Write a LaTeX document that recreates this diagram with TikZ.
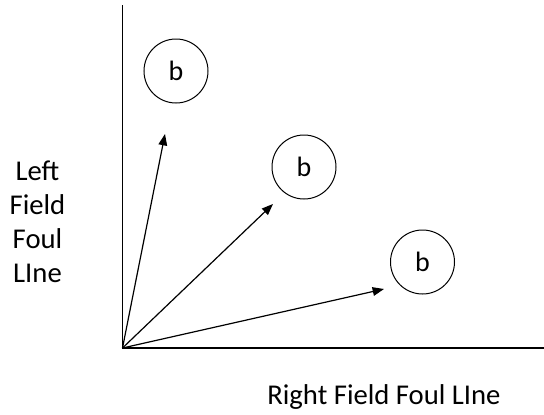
\documentclass[tikz,border=0pt]{standalone}
\usepackage{fontspec}
\setmainfont{Carlito}
\usetikzlibrary{arrows.meta}
\begin{document}
\begin{tikzpicture}[x=0.75pt,y=-0.75pt,
  ball/.style={draw,circle,minimum size=48pt,inner sep=0pt,line width=0.75pt,font=\fontsize{21}{24}\selectfont},
  axis/.style={line width=1pt},
  hit/.style={line width=0.9pt,-{Triangle[length=8.5pt,width=6.5pt]}},
  lbl/.style={font=\fontsize{21.5}{25.5}\selectfont,align=center}]
\useasboundingbox (0,0) rectangle (544,415);
\coordinate (o) at (122.5,348);
\coordinate (top) at (122.5,5);
\coordinate (right) at (544,348);
\draw[axis] (top) -- (o) -- (right);
\node[ball] (b1) at (176,71) {b};
\node[ball] (b2) at (304,167) {b};
\node[ball] (b3) at (422.5,262) {b};
\coordinate (t1) at (165,134);
\coordinate (t2) at (273,204);
\coordinate (t3) at (384,289);
\draw[hit] (o) -- (t1);
\draw[hit] (o) -- (t2);
\draw[hit] (o) -- (t3);
\node[lbl] (left) at (37.5,222) {Left\\Field\\Foul\\LIne};
\node[lbl,anchor=base] (rf) at (384,404) {Right Field Foul LIne};
\end{tikzpicture}
\end{document}
